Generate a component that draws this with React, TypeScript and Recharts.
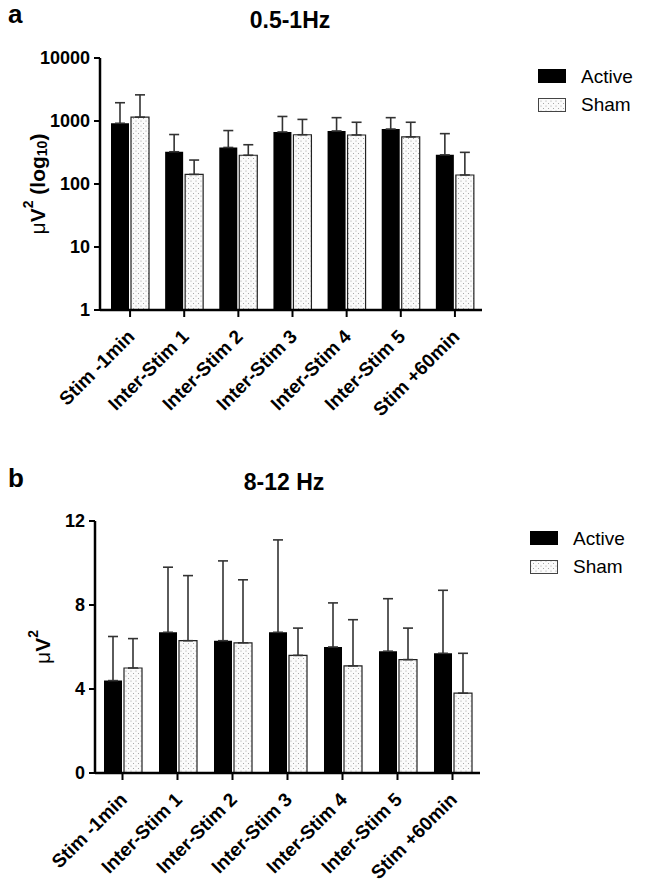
import React from 'react';
import { BarChart, Bar, XAxis, YAxis, ErrorBar } from 'recharts';

const categories = [
  'Stim -1min',
  'Inter-Stim 1',
  'Inter-Stim 2',
  'Inter-Stim 3',
  'Inter-Stim 4',
  'Inter-Stim 5',
  'Stim +60min',
];

// panel a: 0.5-1Hz power, log axis. *Top = top of the error whisker (mean + SD)
const activeSlow = [920, 325, 380, 670, 695, 745, 290];
const activeSlowTop = [1950, 610, 705, 1180, 1130, 1130, 630];
const shamSlow = [1150, 142, 286, 605, 600, 560, 139];
const shamSlowTop = [2600, 240, 420, 1060, 955, 955, 318];
const slowTicks = [1, 10, 100, 1000, 10000];

// panel b: 8-12 Hz power, linear axis
const activeAlpha = [4.4, 6.7, 6.3, 6.7, 6.0, 5.8, 5.7];
const activeAlphaTop = [6.5, 9.8, 10.1, 11.1, 8.1, 8.3, 8.7];
const shamAlpha = [5.0, 6.3, 6.2, 5.6, 5.1, 5.4, 3.8];
const shamAlphaTop = [6.4, 9.4, 9.2, 6.9, 7.3, 6.9, 5.7];
const alphaTicks = [0, 4, 8, 12];

const FONT = '"Liberation Sans", Arial, Helvetica, sans-serif';

const buildRows = (active: number[], activeTop: number[], sham: number[], shamTop: number[]) =>
  categories.map((name, i) => ({
    name,
    active: active[i],
    sham: sham[i],
    activeErr: [0, activeTop[i] - active[i]],
    shamErr: [0, shamTop[i] - sham[i]],
  }));

const slowRows = buildRows(activeSlow, activeSlowTop, shamSlow, shamSlowTop);
const alphaRows = buildRows(activeAlpha, activeAlphaTop, shamAlpha, shamAlphaTop);

const DotPattern = ({ id }: { id: string }) => (
  <defs>
    <pattern id={id} width={5} height={5} patternUnits="userSpaceOnUse">
      <rect width={5} height={5} fill="#fbfbfb" />
      <circle cx={1} cy={1} r={0.55} fill="#9a9a9a" />
      <circle cx={3.5} cy={3.5} r={0.55} fill="#9a9a9a" />
    </pattern>
  </defs>
);

const SlantTick = (props: any) => {
  const { x, y, payload } = props;
  const ty = y + 14;
  return (
    <text
      x={x + 1}
      y={ty}
      dy="0.35em"
      transform={`rotate(-45, ${x + 1}, ${ty})`}
      textAnchor="end"
      fontSize={19}
      fontWeight="bold"
      fontFamily={FONT}
      fill="#000"
    >
      {payload.value}
    </text>
  );
};

const AxisTitle = (props: any) => {
  const { viewBox, offsetX, log } = props;
  const cx = viewBox.x + offsetX;
  const cy = viewBox.y + viewBox.height / 2;
  return (
    <text
      x={cx}
      y={cy}
      transform={`rotate(-90, ${cx}, ${cy})`}
      textAnchor="middle"
      dominantBaseline="central"
      fontSize={21}
      fontWeight="bold"
      fontFamily={FONT}
      fill="#000"
    >
      <tspan fontWeight="normal">μ</tspan>V
      <tspan dy={-9} fontSize={14}>2</tspan>
      {log ? (
        <>
          <tspan dy={9}> (log</tspan>
          <tspan dy={5} fontSize={14}>10</tspan>
          <tspan dy={-5}>)</tspan>
        </>
      ) : null}
    </text>
  );
};

const tickStyle = { fontSize: 18, fontWeight: 'bold', fill: '#000', fontFamily: FONT };
const axisLine = { stroke: '#000', strokeWidth: 2.5 };
const tickLine = { stroke: '#000', strokeWidth: 2 };

const LegendBox = ({ x, y, pid }: { x: number; y: number; pid: string }) => (
  <g fontFamily={FONT} fontSize={19} fill="#000">
    <rect x={x} y={y} width={28} height={14} fill="#000" />
    <text x={x + 43} y={y + 14}>Active</text>
    <rect x={x + 0.5} y={y + 29.5} width={27} height={13} fill={`url(#${pid})`} stroke="#444" strokeWidth={1} />
    <text x={x + 43} y={y + 42}>Sham</text>
  </g>
);

const Panel = (props: any) => {
  const { rows, log, ticks, domain, height, top, yWidth, marginTop, xHeight, right, padLeft, pid, labelX } = props;
  return (
    <div style={{ position: 'absolute', left: 0, top }}>
      <BarChart
        width={645}
        height={height}
        data={rows}
        margin={{ top: marginTop, right, bottom: 7, left: 0 }}
        barSize={18}
        barGap={2}
      >
        <DotPattern id={pid} />
        <XAxis
          dataKey="name"
          interval={0}
          height={xHeight}
          tick={<SlantTick />}
          tickSize={7}
          axisLine={axisLine}
          tickLine={tickLine}
          padding={{ left: padLeft, right: 0 }}
        />
        <YAxis
          width={yWidth}
          scale={log ? 'log' : 'linear'}
          domain={domain}
          ticks={ticks}
          interval={0}
          allowDataOverflow
          tick={tickStyle}
          tickSize={6}
          tickMargin={4}
          axisLine={axisLine}
          tickLine={tickLine}
          label={<AxisTitle offsetX={labelX} log={log} />}
        />
        <Bar dataKey="active" fill="#000" isAnimationActive={false}>
          <ErrorBar dataKey="activeErr" width={5} stroke="#333" strokeWidth={1.6} direction="y" />
        </Bar>
        <Bar dataKey="sham" fill={`url(#${pid})`} stroke="#222" strokeWidth={1.2} isAnimationActive={false}>
          <ErrorBar dataKey="shamErr" width={5} stroke="#333" strokeWidth={1.6} direction="y" />
        </Bar>
      </BarChart>
    </div>
  );
};

export default function App() {
  return (
    <div
      style={{
        position: 'absolute',
        left: 0,
        top: 0,
        width: 645,
        height: 885,
        background: '#fff',
        fontFamily: FONT,
      }}
    >
      <Panel
        rows={slowRows}
        log
        ticks={slowTicks}
        domain={[1, 10000]}
        top={0}
        height={440}
        marginTop={58}
        xHeight={123}
        yWidth={100}
        right={163}
        padLeft={3}
        pid="dotsA"
        labelX={37}
      />
      <Panel
        rows={alphaRows}
        log={false}
        ticks={alphaTicks}
        domain={[0, 12]}
        top={440}
        height={445}
        marginTop={81}
        xHeight={105}
        yWidth={95}
        right={165}
        padLeft={0}
        pid="dotsB"
        labelX={42}
      />
      <svg
        width={645}
        height={885}
        style={{ position: 'absolute', left: 0, top: 0, pointerEvents: 'none' }}
      >
        <DotPattern id="dotsLegend" />
        <g fontFamily={FONT} fontWeight="bold" fill="#000">
          <text x={8} y={23} fontSize={26}>a</text>
          <text x={290} y={28} fontSize={23} textAnchor="middle">0.5-1Hz</text>
          <text x={8} y={487} fontSize={26}>b</text>
          <text x={284} y={490} fontSize={23} textAnchor="middle">8-12 Hz</text>
        </g>
        <LegendBox x={538} y={69} pid="dotsLegend" />
        <LegendBox x={530} y={531} pid="dotsLegend" />
      </svg>
    </div>
  );
}
